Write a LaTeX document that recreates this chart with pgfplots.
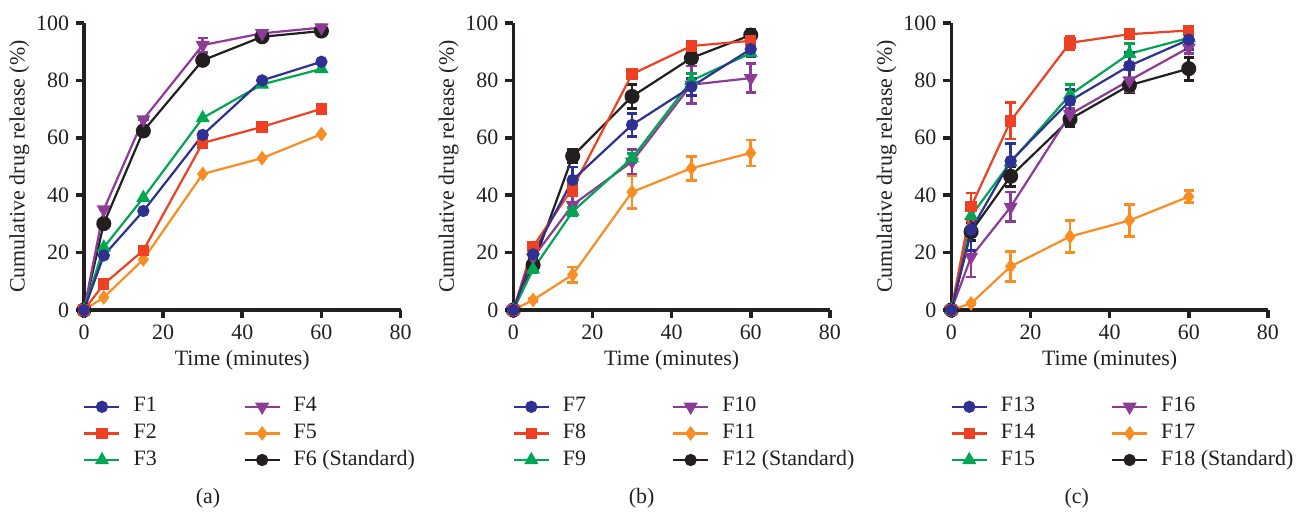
\documentclass[border=0pt]{standalone}
\usepackage{fontspec}
\setmainfont{Liberation Serif}
\usepackage{pgfplots}
\usepackage{pgfplotstable}
\pgfplotsset{compat=1.18}

\definecolor{cblue}{RGB}{46,49,146}
\definecolor{cred}{RGB}{238,65,35}
\definecolor{cgreen}{RGB}{0,166,81}
\definecolor{cpurple}{RGB}{140,60,150}
\definecolor{corange}{RGB}{247,141,35}
\definecolor{cblack}{RGB}{35,31,32}

% ---- panel (a)
\pgfplotstableread{
x y e
0 0 0
5 19.0 0
15 34.5 0
30 61.0 0
45 80.0 0
60 86.5 0
}\dA
\pgfplotstableread{
x y e
0 0 0
5 9.0 0
15 20.8 0
30 58.2 0
45 63.8 0
60 70.1 0
}\dB
\pgfplotstableread{
x y e
0 0 0
5 21.8 0
15 39.1 0
30 66.9 0
45 78.6 0
60 84.0 0
}\dC
\pgfplotstableread{
x y e
0 0 0
5 35.0 0
15 66.4 0
30 92.3 2.5
45 96.4 0.5
60 98.4 0.5
}\dD
\pgfplotstableread{
x y e
0 0 0
5 4.4 0
15 17.6 0
30 47.4 0
45 52.9 0
60 61.3 0
}\dE
\pgfplotstableread{
x y e
0 0 0
5 30.1 0
15 62.4 0
30 87.0 0
45 95.2 0
60 97.2 0
}\dF
% ---- panel (b)
\pgfplotstableread{
x y e
0 0 0
5 19.4 1
15 45.3 4.5
30 64.5 4
45 77.8 3
60 90.9 2.5
}\dG
\pgfplotstableread{
x y e
0 0 0
5 22.1 1
15 42.5 2.5
30 82.2 1.5
45 92.0 1
60 93.8 1
}\dH
\pgfplotstableread{
x y e
0 0 0
5 14.2 1
15 34.3 1.5
30 52.9 1.5
45 79.9 2.5
60 89.5 1
}\dI
\pgfplotstableread{
x y e
0 0 0
5 18.3 1
15 36.6 3.5
30 51.7 4.3
45 78.5 6.5
60 80.8 5
}\dJ
\pgfplotstableread{
x y e
0 0 0
5 3.5 0.5
15 12.3 2.7
30 41.1 5.7
45 49.4 4.2
60 54.7 4.5
}\dK
\pgfplotstableread{
x y e
0 0 0
5 15.7 1
15 53.6 2.3
30 74.4 4.2
45 87.8 1.5
60 95.8 2
}\dL
% ---- panel (c)
\pgfplotstableread{
x y e
0 0 0
5 27.9 7.2
15 51.9 6
30 72.9 3.8
45 85.1 4.5
60 94.2 3.5
}\dM
\pgfplotstableread{
x y e
0 0 0
5 36.0 4.8
15 65.9 6.3
30 93.1 2.3
45 96.1 1
60 97.4 1
}\dN
\pgfplotstableread{
x y e
0 0 0
5 32.8 4.5
15 51.5 6.5
30 75.0 3.5
45 89.3 3.5
60 94.8 2
}\dO
\pgfplotstableread{
x y e
0 0 0
5 18.5 7
15 35.9 5.2
30 68.2 2
45 80.0 3.8
60 91.4 2
}\dP
\pgfplotstableread{
x y e
0 0 0
5 2.3 0.5
15 15.2 5.2
30 25.6 5.7
45 31.2 5.6
60 39.5 2
}\dQ
\pgfplotstableread{
x y e
0 0 0
5 27.3 3
15 46.6 3.5
30 66.5 2.5
45 78.3 2.5
60 84.1 4
}\dR

\tikzset{
  sbase/.style={line width=1.1bp, solid},
  sblue/.style={sbase, color=cblue, mark=*, mark size=2.5bp, mark options={solid, fill=cblue}},
  sred/.style={sbase, color=cred, mark=square*, mark size=2.3bp, mark options={solid, fill=cred}},
  sgreen/.style={sbase, color=cgreen, mark=triangle*, mark size=3bp, mark options={solid, fill=cgreen}},
  spurple/.style={sbase, color=cpurple, mark=triangle*, mark size=3bp, mark options={solid, fill=cpurple, rotate=180}},
  sorange/.style={sbase, color=corange, mark=diamond*, mark size=2.8bp, mark options={solid, fill=corange}},
  sblack/.style={sbase, color=cblack, mark=*, mark size=3.2bp, mark options={solid, fill=cblack}},
  sblackl/.style={sbase, color=cblack, mark=*, mark size=2.5bp, mark options={solid, fill=cblack}},
}

\pgfplotsset{
  eb/.style={error bars/y dir=both, error bars/y explicit,
    error bars/error bar style={line width=1.4bp, solid},
    error bars/error mark options={line width=1.4bp, mark size=2.6bp, rotate=90}},
  panel/.style={
    scale only axis, width=158.3bp, height=143.5bp,
    xmin=0, xmax=80, ymin=0, ymax=100,
    axis x line=bottom, axis y line=left,
    axis line style={-, line width=1.8bp, cblack},
    xtick={0,20,...,80}, ytick={0,20,...,100},
    tick align=outside, major tick length=4bp,
    tick style={line width=1.8bp, cblack},
    clip=false,
    every tick label/.append style={font=\fontsize{11}{13}\selectfont, text=cblack},
    /pgf/number format/assume math mode=true,
    xlabel={Time (minutes)}, ylabel={Cumulative drug release (\%)},
    every axis x label/.style={at={(axis description cs:0.5,-0.174)}, anchor=center, font=\fontsize{11}{13}\selectfont, text=cblack},
    every axis y label/.style={at={(axis description cs:-0.204,0.5)}, anchor=center, rotate=90, font=\fontsize{11}{13}\selectfont, text=cblack},
    legend columns=2,
    legend cell align=left,
    legend image code/.code={\draw[mark repeat=2, mark phase=2, ##1] plot coordinates {(0bp,0bp) (8.75bp,0bp) (17.5bp,0bp)};},
    legend style={draw=none, fill=none, inner sep=0pt,
      at={(axis description cs:0,-0.2976)}, xshift=-0.5bp, anchor=north west,
      row sep=2.3bp, font=\fontsize{11}{13}\selectfont,
      nodes={inner sep=0pt, text height=8bp, text depth=3bp, text=cblack},
      /tikz/every odd column/.append style={column sep=6.5bp}},
  },
}

\begin{document}
\begin{tikzpicture}
\useasboundingbox (0,0) rectangle (648bp,257bp);

% ---------------- (a)
\begin{axis}[panel, at={(42bp,102bp)}, anchor=south west,
  legend style={/tikz/every even column/.append style={column sep=43.4bp}}]
\addlegendimage{sblue}\addlegendentry{F1}
\addlegendimage{spurple}\addlegendentry{F4}
\addlegendimage{sred}\addlegendentry{F2}
\addlegendimage{sorange}\addlegendentry{F5}
\addlegendimage{sgreen}\addlegendentry{F3}
\addlegendimage{sblackl}\addlegendentry{F6 (Standard)}
\addplot[sblack, forget plot] table[x=x, y=y] {\dF};
\addplot[sorange, forget plot] table[x=x, y=y] {\dE};
\addplot[spurple, eb, forget plot] table[x=x, y=y, y error=e] {\dD};
\addplot[sgreen, forget plot] table[x=x, y=y] {\dC};
\addplot[sred, forget plot] table[x=x, y=y] {\dB};
\addplot[sblue, forget plot] table[x=x, y=y] {\dA};
\end{axis}

% ---------------- (b)
\begin{axis}[panel, at={(256.65bp,102bp)}, anchor=south west,
  legend style={/tikz/every even column/.append style={column sep=43bp}}]
\addlegendimage{sblue}\addlegendentry{F7}
\addlegendimage{spurple}\addlegendentry{F10}
\addlegendimage{sred}\addlegendentry{F8}
\addlegendimage{sorange}\addlegendentry{F11}
\addlegendimage{sgreen}\addlegendentry{F9}
\addlegendimage{sblackl}\addlegendentry{F12 (Standard)}
\addplot[sblack, eb, forget plot] table[x=x, y=y, y error=e] {\dL};
\addplot[sorange, eb, forget plot] table[x=x, y=y, y error=e] {\dK};
\addplot[spurple, eb, forget plot] table[x=x, y=y, y error=e] {\dJ};
\addplot[sgreen, eb, forget plot] table[x=x, y=y, y error=e] {\dI};
\addplot[sred, eb, forget plot] table[x=x, y=y, y error=e] {\dH};
\addplot[sblue, eb, forget plot] table[x=x, y=y, y error=e] {\dG};
\end{axis}

% ---------------- (c)
\begin{axis}[panel, at={(475.65bp,102bp)}, anchor=south west,
  legend style={/tikz/every even column/.append style={column sep=38bp}}]
\addlegendimage{sblue}\addlegendentry{F13}
\addlegendimage{spurple}\addlegendentry{F16}
\addlegendimage{sred}\addlegendentry{F14}
\addlegendimage{sorange}\addlegendentry{F17}
\addlegendimage{sgreen}\addlegendentry{F15}
\addlegendimage{sblackl}\addlegendentry{F18 (Standard)}
\addplot[sorange, eb, forget plot] table[x=x, y=y, y error=e] {\dQ};
\addplot[sblack, eb, forget plot] table[x=x, y=y, y error=e] {\dR};
\addplot[spurple, eb, forget plot] table[x=x, y=y, y error=e] {\dP};
\addplot[sgreen, eb, forget plot] table[x=x, y=y, y error=e] {\dO};
\addplot[sred, eb, forget plot] table[x=x, y=y, y error=e] {\dN};
\addplot[sblue, eb, forget plot] table[x=x, y=y, y error=e] {\dM};
\end{axis}

\node[font=\fontsize{11}{13}\selectfont, text=cblack] at (104bp,8bp) {(a)};
\node[font=\fontsize{11}{13}\selectfont, text=cblack] at (320.85bp,8bp) {(b)};
\node[font=\fontsize{11}{13}\selectfont, text=cblack] at (538.35bp,8bp) {(c)};
\end{tikzpicture}
\end{document}
